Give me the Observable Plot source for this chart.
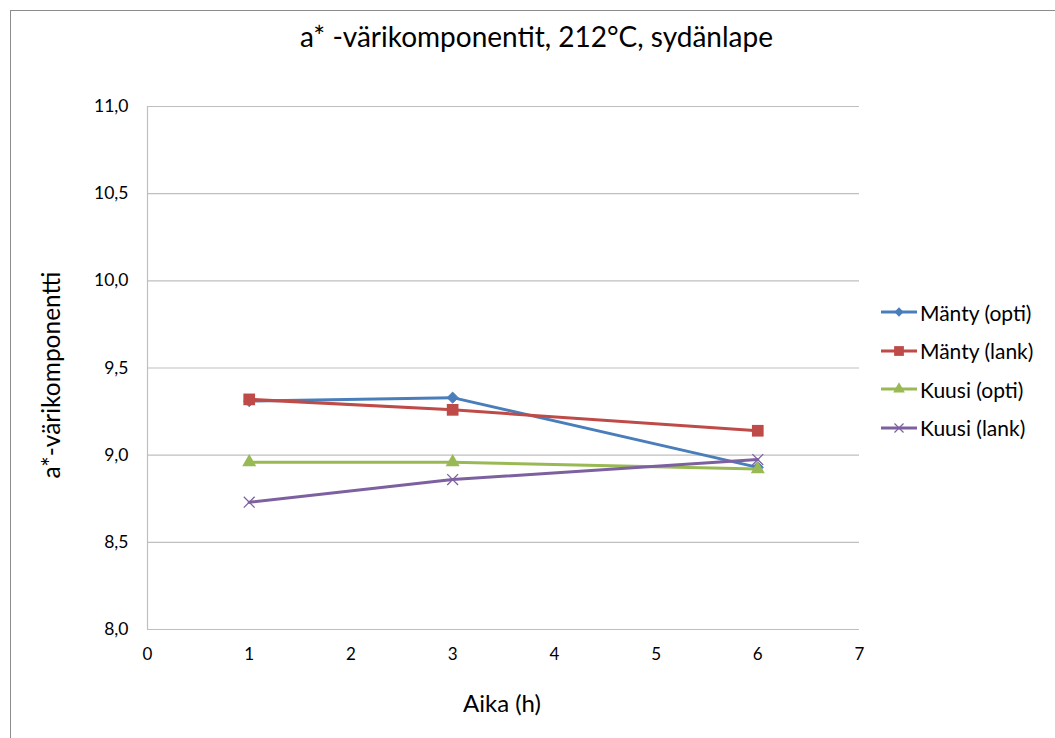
<!DOCTYPE html>
<html>
<head>
<meta charset="utf-8">
<script src="https://cdn.jsdelivr.net/npm/d3@7"></script>
<script src="https://cdn.jsdelivr.net/npm/@observablehq/plot@0.6"></script>
<style>
  html, body { margin: 0; padding: 0; background: #fff; overflow: hidden; }
  body { width: 1055px; height: 738px; position: relative; font-family: Lato, "Open Sans", sans-serif; color: #000; }
  #frame { position: absolute; left: 10px; top: 10px; width: 1200px; height: 900px; border: 1px solid #8c8c8c; box-sizing: border-box; pointer-events: none; }
  #chart { position: absolute; left: 0; top: 0; }
  .title { position: absolute; left: 0; width: 1073px; top: 20px; text-align: center; font-size: 28px; line-height: 32px; white-space: nowrap; }
  .xlabel { position: absolute; left: 402px; width: 200px; top: 689px; text-align: center; font-size: 24px; line-height: 28px; }
  .ylabel { position: absolute; left: 51px; top: 375px; transform: translate(-50%, -50%) rotate(-90deg); font-size: 24.5px; line-height: 28px; white-space: nowrap; }
  .legend { position: absolute; left: 880px; top: 293px; }
  .legend .item { display: flex; align-items: center; height: 38.5px; font-size: 21px; white-space: nowrap; }
  .legend svg { display: block; margin-right: 2px; }
</style>
</head>
<body>
<div id="chart"></div>
<div class="title">a* -värikomponentit, 212°C, sydänlape</div>
<div class="ylabel">a*-värikomponentti</div>
<div class="xlabel">Aika (h)</div>
<div class="legend" id="legend"></div>
<div id="frame"></div>
<script>
// ---- data ----
const hours = [1, 3, 6];
const seriesNames = ["Mänty (opti)", "Mänty (lank)", "Kuusi (opti)", "Kuusi (lank)"];
const mantyOpti = [9.31, 9.33, 8.93];
const mantyLank = [9.32, 9.26, 9.14];
const kuusiOpti = [8.96, 8.96, 8.92];
const kuusiLank = [8.73, 8.86, 8.975];
const xTicks = [0, 1, 2, 3, 4, 5, 6, 7];
const yTicks = [8.0, 8.5, 9.0, 9.5, 10.0, 10.5, 11.0];

// ---- styles ----
const colors = ["#4a7ebb", "#be4b48", "#98b954", "#7d60a0"];
const symbols = ["diamond2", "square", "triangle", "times"];
const radii = [5, 6.6, 5.2, 5];
const values = [mantyOpti, mantyLank, kuusiOpti, kuusiLank];

const rows = values.map((vals, si) => hours.map((h, i) => ({ series: seriesNames[si], x: h, y: vals[i] })));

const fmt = d => d.toFixed(1).replace(".", ",");

const marks = [
  Plot.gridY(yTicks, { stroke: "#bfbfbf", strokeOpacity: 1, strokeWidth: 1.2 }),
  Plot.ruleX([0], { y1: 8, y2: 11, stroke: "#bfbfbf", strokeWidth: 1.2 }),
  Plot.axisX(xTicks, { tickSize: 0, tickPadding: 18, tickFormat: d => String(d), fontSize: 17, label: null }),
  Plot.axisY(yTicks, { tickSize: 0, tickPadding: 19, tickFormat: fmt, fontSize: 17.5, label: null })
];
rows.forEach((data, si) => {
  marks.push(Plot.line(data, { x: "x", y: "y", stroke: colors[si], strokeWidth: 3, strokeLinejoin: "round" }));
  const isStroke = symbols[si] === "times";
  marks.push(Plot.dot(data, {
    x: "x", y: "y", symbol: () => symbols[si], r: radii[si],
    fill: isStroke ? "none" : colors[si],
    stroke: colors[si],
    strokeWidth: isStroke ? 1.3 : (symbols[si] === "diamond2" ? 1 : 0)
  }));
});

const chart = Plot.plot({
  width: 1055,
  height: 738,
  marginLeft: 147,
  marginRight: 196,
  marginTop: 106,
  marginBottom: 109,
  x: { domain: [0, 7] },
  y: { domain: [8, 11] },
  style: { fontFamily: "Lato, 'Open Sans', sans-serif", color: "#000", background: "transparent", overflow: "visible" },
  marks
});
document.getElementById("chart").appendChild(chart);

// ---- legend ----
const legend = document.getElementById("legend");
seriesNames.forEach((name, si) => {
  const item = document.createElement("div");
  item.className = "item";
  const svg = d3.create("svg").attr("width", 38).attr("height", 16);
  svg.append("line").attr("x1", 1).attr("x2", 37).attr("y1", 8).attr("y2", 8)
    .attr("stroke", colors[si]).attr("stroke-width", 3);
  const symMap = { diamond2: d3.symbolDiamond2, square: d3.symbolSquare, triangle: d3.symbolTriangle, times: d3.symbolTimes };
  const size = Math.PI * radii[si] * radii[si] * 0.7;
  const isStroke = symbols[si] === "times";
  svg.append("path").attr("d", d3.symbol(symMap[symbols[si]], size)())
    .attr("transform", "translate(19,8)")
    .attr("fill", isStroke ? "none" : colors[si])
    .attr("stroke", colors[si]).attr("stroke-width", isStroke ? 1.2 : 0);
  item.appendChild(svg.node());
  const span = document.createElement("span");
  span.textContent = name;
  item.appendChild(span);
  legend.appendChild(item);
});
</script>
</body>
</html>
